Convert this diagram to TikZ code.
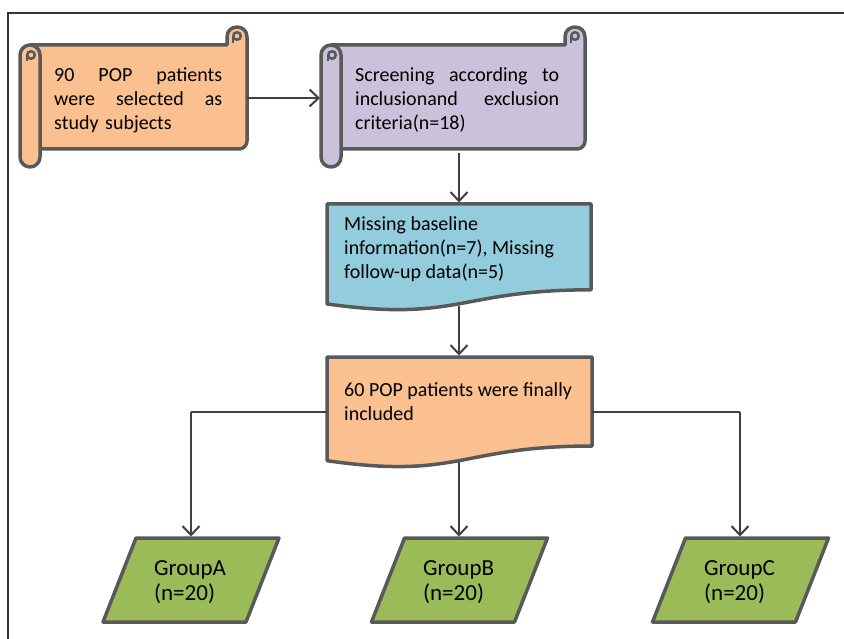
\documentclass[tikz,border=0pt]{standalone}
\usepackage{fontspec}
\setmainfont{Carlito}
\usetikzlibrary{arrows.meta}
\definecolor{edgegray}{HTML}{595959}
\definecolor{wiregray}{HTML}{404040}
\definecolor{orangefill}{HTML}{FAC090}
\definecolor{purplefill}{HTML}{CCC1DA}
\definecolor{bluefill}{HTML}{93CDDD}
\definecolor{greenfill}{HTML}{9BBB59}
\newcommand{\boxfont}{\fontsize{20}{24}\selectfont}
\newcommand{\grpfont}{\fontsize{23}{25.5}\selectfont}
% scroll: #1 = left x, #2 = right x, #3 = fill
\newcommand{\myscroll}[3]{%
  \draw[shapeborder, fill=#3] (#1+10,45) -- (#2-20,45) -- (#2-20,37)
     .. controls (#2-20,23.7) and (#2,23.7) .. (#2,37) -- (#2,141)
     .. controls (#2,145.4) and (#2-3.6,149) .. (#2-8,149) -- (#1+10,149) -- cycle;
  \draw[shapeborder, line width=2.5pt, fill=#3] (#2-10,36) circle[radius=3.8];
  \draw[shapeborder, line width=2.5pt] (#2-14,37) -- (#2-14,43);
  \draw[shapeborder, fill=#3, rounded corners=10pt] (#1,45) rectangle (#1+20,167);
  \draw[shapeborder, line width=2.5pt, fill=#3] (#1+11,55) circle[radius=3.8];
  \draw[shapeborder, line width=2.5pt] (#1+7,55) -- (#1+7,61);
}
% document shape: #1 x0, #2 y0, #3 w, #4 h, #5 fill
\newcommand{\mydoc}[5]{%
  \draw[shapeborder, fill=#5] (#1,#2) -- (#1+#3,#2) -- (#1+#3,#2+0.802*#4)
     .. controls (#1+0.5*#3,#2+0.802*#4) and (#1+0.5*#3,#2+1.107*#4) .. (#1,#2+0.934*#4) -- cycle;
}
\tikzset{
  shapeborder/.style={draw=edgegray, line width=3.5pt, line join=round},
  wire/.style={draw=wiregray, line width=2pt, -{Straight Barb[length=9pt,width=17pt]}},
  plainwire/.style={draw=wiregray, line width=2pt},
  boxtext/.style={inner sep=0pt, anchor=north west, align=left, font=\boxfont, text=black},
  grptext/.style={inner sep=0pt, anchor=north west, align=left, font=\grpfont, text=black},
}
\begin{document}
\begin{tikzpicture}[x=1pt, y=-1pt]
\useasboundingbox (0,0) rectangle (844,639);
\fill[white] (0,0) rectangle (844,639);
% frame
\draw[line width=1.6pt, black!80] (844,13) -- (8,13) -- (8,639);

% scrolls
\myscroll{20}{247}{orangefill}
\myscroll{321}{585}{purplefill}
\node[boxtext, text width=168pt] (t1) at (54,64.2)
  {\strut 90\hfill POP\hfill patients\\ were\hfill selected\hfill as\\ study subjects};
\node[boxtext, text width=204pt] (t2) at (355,64.2)
  {\strut Screening\hfill according\hfill to\\ inclusionand\hfill exclusion\\ criteria(n=18)};

% documents
\mydoc{327}{204}{264}{107}{bluefill}
\mydoc{327}{357}{265}{111}{orangefill}
\node[boxtext] (t3) at (344,213.2)
  {\strut Missing baseline\\ information(n=7), Missing\\ follow-up data(n=5)};
\node[boxtext] (t4) at (344,379.2)
  {\strut 60 POP patients were finally\\ included};

% groups
\draw[shapeborder, fill=greenfill] (136,538) -- (279,538) -- (246,622) -- (103,622) -- cycle;
\draw[shapeborder, fill=greenfill] (404.5,538) -- (547.5,538) -- (514.5,622) -- (371.5,622) -- cycle;
\draw[shapeborder, fill=greenfill] (685.5,538) -- (828.5,538) -- (795.5,622) -- (652.5,622) -- cycle;
\node[grptext] (ga) at (154,557) {\strut GroupA\\ (n=20)};
\node[grptext] (gb) at (423,557) {\strut GroupB\\ (n=20)};
\node[grptext] (gc) at (704,557) {\strut GroupC\\ (n=20)};

% connection points
\coordinate (s1e) at (247,98);
\coordinate (s2w) at (320,98);
\coordinate (s2s) at (459,153);
\coordinate (bn) at (459,202.5);
\coordinate (bs) at (459,306);
\coordinate (on) at (459,355.5);
\coordinate (ow) at (327,412);
\coordinate (oe) at (592,412);
\coordinate (os) at (459,462);
\coordinate (an) at (191,536.5);
\coordinate (bnn) at (459,536.5);
\coordinate (cn) at (740,536.5);
\coordinate (lbend) at (191,412);
\coordinate (rbend) at (740,412);

% connectors
\draw[wire] (s1e) -- (s2w);
\draw[wire] (s2s) -- (bn);
\draw[wire] (bs) -- (on);
\draw[plainwire] (ow) -- (lbend);
\draw[wire] (lbend) -- (an);
\draw[plainwire] (oe) -- (rbend);
\draw[wire] (rbend) -- (cn);
\draw[wire] (os) -- (bnn);
\end{tikzpicture}
\end{document}
